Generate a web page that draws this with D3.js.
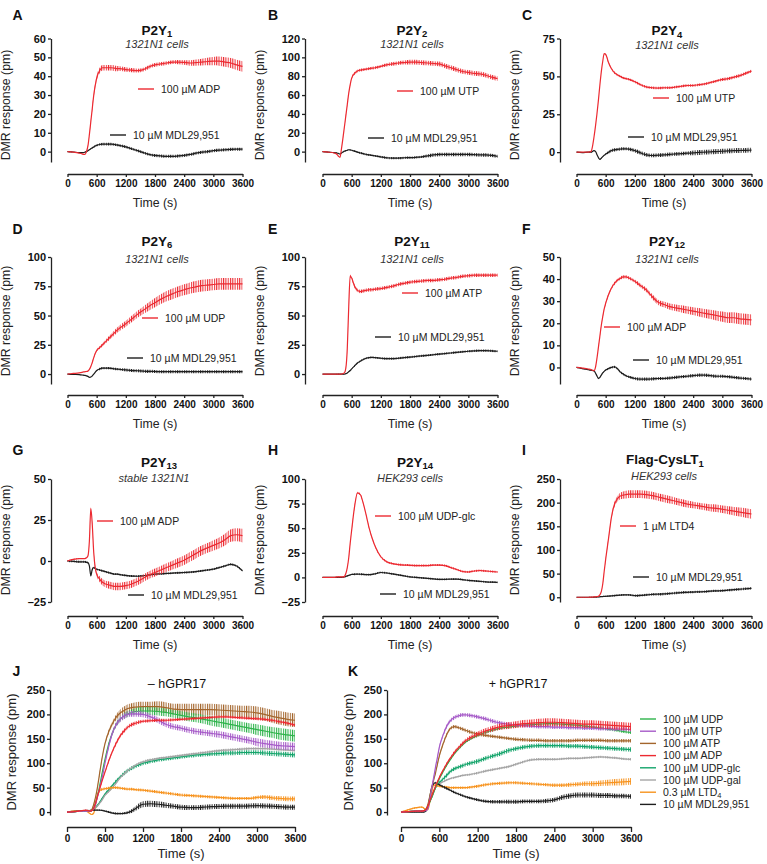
<!DOCTYPE html>
<html><head><meta charset="utf-8">
<script src="https://cdn.jsdelivr.net/npm/d3@7"></script>
<style>body{margin:0;background:#fff}svg{display:block}</style>
</head><body><svg id="c" width="767" height="864"></svg>
<script>
// ---------- time grid (s) ----------
const T = [0,120,240, 300,330,360,390,420,450,480,510,540,570,600, 660,720,780,840,900,960,1020,1080, 1200,1320,1440,1560,1680,1800,1920,2040,2160,2280, 2400,2520,2640,2760,2880,3000,3120,3240,3360,3480, 3600];
const xTicks = [0,600,1200,1800,2400,3000,3600];

// ---------- A: P2Y1 ----------
const A_ADP   = [0,-0.3,-0.8, -1.2,-1.5,-1.5,0,3,9,16,23,30,35,39, 43,44.5,44.5,44.5,44.5,44.3,44,44, 43.5,43.2,43,43.5,45,46,46.5,47,47.5,47.5, 47.3,47,47.2,47.5,47.8,48,48,47.5,47,46, 45.2];
const A_ADP_e = [0,0,0, 0,0,0,0.3,0.5,0.8,1,1,1.2,1.3,1.5, 1.5,1.5,1.5,1.5,1.5,1.5,1.4,1.3, 1.2,1.1,1,1,1,1,1,1,1,1.1, 1.2,1.4,1.6,1.8,2,2.2,2.4,2.5,2.6,2.7, 2.8];
const A_MDL   = [0,-0.2,-0.5, -0.5,-0.5,-0.3,0,0.5,1,1.5,2,2.5,3,3.3, 3.8,4,4,4,4,3.8,3.5,3.2, 2.5,1.5,0.5,-0.5,-1.5,-2,-2.3,-2.5,-2.5,-2.3, -2,-1.5,-0.8,-0.3,0,0.5,0.8,1,1.2,1.3, 1.3];
const A_MDL_e = [0.2,0.2,0.2, 0.2,0.2,0.2,0.2,0.2,0.3,0.3,0.4,0.5,0.5,0.6, 0.6,0.7,0.7,0.7,0.7,0.7,0.7,0.7, 0.7,0.7,0.7,0.7,0.7,0.8,0.8,0.8,0.8,0.8, 0.8,0.8,0.8,0.8,0.8,0.8,0.8,0.8,0.8,0.8, 0.8];
// ---------- B: P2Y2 ----------
const B_UTP   = [0,-0.5,-1.5, -3,-5,-6,3,14,26,38,50,62,71,78, 83,85.5,86.5,87,87.5,88,88.5,89, 90.5,92,93,94,94.5,95,95,94.5,94,93.5, 93,91,89,87,85,84,83,82.5,81,79, 77.5];
const B_UTP_e = [0,0,0, 0,0,0,0,0.5,0.5,1,1,1,1.2,1.5, 1.5,1.5,1.5,1.5,1.5,1.5,1.5,1.5, 1.5,1.8,2,2,2.2,2.5,2.5,2.5,2.5,2.5, 2.5,2.5,2.5,2.5,2.5,2.5,2.5,2.5,2.5,2.5, 2.5];
const B_MDL   = [0,-0.5,-1, -1.5,-2,-2.5,-1.5,-0.5,0.5,1,1.5,2,1.8,1.5, 0.5,-0.5,-1.5,-2.2,-3,-3.5,-4,-4.5, -5.5,-6.5,-6.8,-6.8,-6.5,-6.3,-6,-5.5,-4.5,-3.5, -3,-3,-3,-3,-3,-3,-3.2,-3.5,-3.5,-4, -5];
const B_MDL_e = [0.3,0.3,0.3, 0.5,0.5,0.5,0.5,0.5,0.5,0.5,0.5,0.5,0.5,0.5, 1,1,1,1,1,1,1,1, 1.2,1.2,1.2,1.2,1.2,1.2,1.2,1.2,1.8,1.8, 1.8,1.8,1.8,1.8,1.8,1.8,1.8,1.8,1.8,1.8, 1.8];
// ---------- C: P2Y4 ----------
const C_UTP   = [0,0,0, 0.5,4,10,17,25,34,44,53,60,65,64.5, 59,55,52.5,51,50,49,48.5,48, 46.5,44.5,43,42.5,42.3,42.5,42.5,43,43.5,44, 44,44.5,45,46,47,48,48.5,49.5,50.5,52, 53.5];
const C_UTP_e = [0,0,0, 0,0,0,0,0,0,0,0,0,0.3,0.5, 0.7,0.7,0.7,0.7,0.7,0.7,0.7,0.7, 0.8,0.8,0.8,0.8,0.8,0.8,0.8,0.8,0.8,0.8, 0.8,0.8,0.8,0.8,0.8,1,1,1,1,1, 1];
const C_MDL   = [0,-0.3,0, 0,0.5,1,0.5,-1.5,-3.5,-4.8,-4,-3,-2,-1.3, 0,1,1.5,1.8,2,2.2,2.2,2, 1,-0.5,-1.8,-2.2,-2,-1.8,-1.5,-1.2,-1,-0.7, -0.5,-0.2,0,0.2,0.4,0.6,0.8,1,1.1,1.2, 1.3];
const C_MDL_e = [0.3,0.3,0.3, 0.3,0.3,0.3,0.3,0.3,0.3,0.3,0.3,0.3,0.3,0.5, 1,1,1,1,1,1,1,1, 1.2,1.2,1.2,1.2,1.2,1.2,1.2,1.2,1.2,1.2, 1.6,1.6,1.6,1.6,1.6,1.6,1.6,1.6,1.6,1.6, 1.6];
// ---------- D: P2Y6 ----------
const D_UDP   = [0,0.5,1, 1.5,1.8,2,2.2,2.5,4,6.5,10,14,17.5,20, 22.5,25,27.5,30,32.5,35,37.5,39.5, 43,47,51,54.5,58,61,64,66.5,68.5,70.5, 72,73.5,74.5,75.5,76,76.5,77,77,77,77, 77];
const D_UDP_e = [0,0,0, 0,0,0,0,0,0.3,0.5,0.7,0.8,0.9,1, 1.2,1.4,1.6,1.8,2,2.2,2.3,2.4, 2.5,2.8,3,3.3,3.6,4,4.2,4.4,4.5,4.6, 4.7,4.8,4.9,5,5,5,5,5,5,5, 5];
const D_MDL   = [0,-0.3,-0.5, -0.8,-1,-1.2,-1.5,-2,-2.8,-2.5,-1.5,0,1.5,3, 4.3,5,5,5,4.8,4.5,4.2,4, 3.5,3,2.8,2.5,2.3,2.2,2,2,2,2, 2,2,2,2,2,2,2,2,2,2, 2];
const D_MDL_e = [0.3,0.3,0.3, 0.3,0.3,0.3,0.3,0.3,0.3,0.3,0.3,0.3,0.3,0.3, 1,1,1,1,1,1,1,1, 1.3,1.3,1.3,1.3,1.3,1.3,1.3,1.3,1.3,1.3, 1.3,1.3,1.3,1.3,1.3,1.3,1.3,1.3,1.3,1.3, 1.3];
// ---------- E: P2Y11 ----------
const E_ATP   = [0,0,0, 0,0,0,0,0.5,1,5,22,58,84,82, 75,71.5,70.5,71,71.5,72,72,72.5, 73,74,75,76.5,77.5,78.5,79,79.5,80,80, 80.5,81,82,82.5,83.5,84,84.5,84.5,84.5,84.5, 84.5];
const E_ATP_e = [0,0,0, 0,0,0,0,0,0,0.5,1,1,1,1.2, 1.5,1.5,1.5,1.5,1.5,1.5,1.5,1.5, 1.5,1.5,1.5,1.5,1.5,1.5,1.5,1.5,1.5,1.5, 1.5,1.5,1.5,1.5,1.5,1.5,1.5,1.5,1.5,1.5, 1.5];
const E_MDL   = [0,0,0, 0,0,0,0,0,0,0.3,1,2,3,4.5, 7,9.5,11,12.5,13.5,14,14.2,14, 13.5,13.2,13.2,13.5,14,14.5,15,15.5,16,16.5, 17,17.5,18,18.5,19,19.5,19.8,20,20,19.8, 19.5];
const E_MDL_e = [0,0,0, 0.3,0.3,0.3,0.3,0.3,0.3,0.3,0.3,0.3,0.3,0.3, 0.8,0.8,0.8,0.8,0.8,0.8,0.8,0.8, 0.9,0.9,0.9,0.9,0.9,0.9,0.9,0.9,0.9,0.9, 0.9,0.9,0.9,0.9,0.9,0.9,0.9,0.9,0.9,0.9, 0.9];
// ---------- F: P2Y12 ----------
const F_ADP   = [0,-0.3,-0.7, -1,-1.3,-1.5,0,4,9,14,19,23,26.5,29, 33,36,38,39.5,40.3,41,41,40.5, 39,37,35,32,29.5,28.5,27.5,27,26.5,26, 25.5,25,24.5,24,23.5,23,22.5,22.5,22,21.8, 21.5];
const F_ADP_e = [0,0,0, 0,0,0,0,0.2,0.3,0.4,0.5,0.5,0.6,0.6, 0.7,0.7,0.7,0.7,0.7,0.7,0.7,0.7, 0.8,0.9,1,1.1,1.2,1.3,1.4,1.5,1.6,1.7, 1.8,1.9,2,2.1,2.2,2.3,2.4,2.5,2.5,2.5, 2.5];
const F_MDL   = [0,-0.5,-1, -1.3,-1.4,-1.5,-2.5,-3.8,-5,-4.5,-3.5,-2.5,-1.8,-1.2, -0.5,0,0.3,-0.5,-2,-3,-3.8,-4.3, -5,-5.3,-5.3,-5.2,-5,-5,-4.8,-4.5,-4.2,-4, -3.7,-3.5,-3.5,-3.7,-4,-4,-4.2,-4.5,-4.8,-5, -5.3];
const F_MDL_e = [0.2,0.2,0.2, 0.3,0.3,0.3,0.3,0.3,0.3,0.3,0.3,0.3,0.3,0.3, 0.5,0.5,0.5,0.5,0.5,0.5,0.5,0.5, 0.7,0.7,0.7,0.7,0.7,0.7,0.7,0.7,0.7,0.7, 0.7,0.7,0.7,0.7,0.7,0.7,0.7,0.7,0.7,0.7, 0.7];
// ---------- G: P2Y13 ----------
const G_ADP   = [0,1,1.5, 1.5,1.5,1.5,2,3,12,32,22,5,-4,-8, -11,-13,-14,-14.5,-15,-15.5,-15.5,-15.5, -15,-14,-12.5,-10.5,-8.5,-7,-5.5,-4,-2.5,-1, 0.5,2.5,4.5,6.5,8,9.5,11,13,15.5,16, 15.5];
const G_ADP_e = [0.3,0.3,0.3, 0.3,0.3,0.3,0.3,0.3,0.5,0.8,1,1,1.2,1.5, 1.8,2,2,2.2,2.2,2.3,2.3,2.3, 2.3,2.3,2.3,2.3,2.3,2.4,2.5,2.6,2.7,2.8, 2.9,3,3,3,3,3.2,3.4,3.6,3.8,4, 4.2];
const G_MDL   = [0,-0.2,-0.5, -0.5,-0.5,-0.5,-0.8,-1,-3,-9,-5,-4,-4.5,-5, -5.5,-6,-6.5,-7,-7.5,-8,-8,-8.3, -8.8,-9.2,-9.3,-9,-8.5,-8,-7.8,-7.6,-7.4,-7.2, -7,-6.8,-6.5,-6,-5.5,-5,-4,-3,-2,-3, -6];
const G_MDL_e = [0.6,0.6,0.6, 0.6,0.6,0.6,0.6,0.6,0.6,0.6,0.6,0.6,0.6,0.6, 0.6,0.6,0.6,0.6,0.6,0.6,0.6,0.6, 0.6,0.6,0.6,0.6,0.6,0.6,0.6,0.6,0.6,0.6, 0.6,0.6,0.6,0.6,0.6,0.6,0.6,0.6,0.6,0.6, 0.6];
// ---------- H: P2Y14 ----------
const H_GLC   = [0,0,0, 0.5,0.5,0.5,0.5,0.5,1,4,10,20,35,48, 72,86,84,75,63,50,40,32, 21,16,14,13,12.5,12.3,12,12,12,12.5, 12.5,12,10,8,6,5.5,6.5,7,6.5,6, 5.5];
const H_GLC_e = [0.3,0.3,0.3, 0.3,0.3,0.3,0.3,0.3,0.3,0.3,0.5,0.8,1,1, 1,1,1,1,1,1,1,1, 1,1,1,1,1,1,1,1,1,1, 1,1,1,1,1,1,1,1,1,1, 1];
const H_MDL   = [0,0,0, 0,0,0,0,0.3,0.5,1,1.5,2,2.5,3, 3.2,3.3,3.2,3,2.8,2.8,3,3.5, 5,4.5,3.5,2.5,1.5,0.5,0,-0.5,-1,-1.5, -2,-2,-1.8,-1.8,-2.2,-3,-3.5,-4,-4.5,-4.8, -5];
const H_MDL_e = [0.3,0.3,0.3, 0.5,0.5,0.5,0.5,0.5,0.5,0.5,0.5,0.5,0.5,0.5, 0.9,0.9,0.9,0.9,0.9,0.9,0.9,0.9, 0.9,0.9,0.9,0.9,0.9,0.9,0.9,0.9,0.9,0.9, 0.9,0.9,0.9,0.9,0.9,0.9,0.9,0.9,0.9,0.9, 0.9];
// ---------- I: Flag-CysLT1 ----------
const I_LTD   = [0,0,0, 0.5,0.5,1,1,1.5,2,5,12,28,55,80, 125,170,196,208,214,216,217,218, 218,218,217,215,212,209,206,203,200,197, 195,193,191,189,188,186,184,182,180,178, 176];
const I_LTD_e = [0,0,0, 0,0,0,0,0,0,0,0.5,1,1.5,2, 3,4,5,6,7,7.5,8,8, 8,8,8,8,8,8,8,7.5,7.5,7.5, 7,7,7,7.5,8,8,8.5,9,9.5,10, 10];
const I_MDL   = [0,0,0, 0,0,0,0.5,0.5,1,1,1.5,1.5,2,2, 2.5,3,3.5,4,4.5,5,5,5, 3.5,4,5,6,6.5,7,8,9,10,10.5, 11,11.5,12,13,13.5,14,15,16,17,18, 19];
const I_MDL_e = [0.5,0.5,0.5, 1,1,1,1,1,1,1,1,1,1,1, 2,2,2,2,2,2,2,2, 2.5,2.5,2.5,2.5,2.5,2.5,2.5,2.5,2.5,2.5, 2.5,2.5,2.5,2.5,2.5,2.5,2.5,2.5,2.5,2.5, 2.5];

// ---------- J: - hGPR17 ----------
const J_GLC   = [0,1,2, 2,2,2,3,5,9,14,19,25,31,37, 46,55,64,72,79,85,90,94, 100,104,107,109,111,113,115,117,118,119, 120,121,121,122,122,122,121,120,119,118, 117];
const J_GLC_e = [0.5,0.5,0.5, 0.5,0.5,0.5,0.5,1,1,1.5,1.5,2,2,2.5, 3,3,3.5,3.5,4,4,4,4, 4,4,4,4,4,4,4,4,4,4, 4.5,4.5,4.5,4.5,4.5,4.5,5,5,5,5, 5];
const J_GAL   = [0,1,2, 2,2,2,3,5,8,12,17,22,28,34, 42,50,60,70,78,85,91,96, 103,107,110,112,114,116,118,120,122,124, 126,127,128,129,130,130,130,129,128,127, 126];
const J_GAL_e = [0.5,0.5,0.5, 1,1,1,1,1,1,1,1,1,1,1, 2,2,2,2,2,2,2,2, 2.5,2.5,2.5,2.5,2.5,2.5,2.5,2.5,2.5,2.5, 2.5,2.5,2.5,2.5,2.5,2.5,2.5,2.5,2.5,2.5, 2.5];
const J_LTD   = [0,2,3, 2,0,-3,-5,-3,15,35,43,46,47,48, 49,50,50,49,48,47,47,46, 45,43,41,39,37,35,34,33,32,31, 30,29,28,28,28,30,31,29,28,27, 27];
const J_LTD_e = [1,1,1, 1,1,1,1,1,2,3,3,3,3,3, 3,3,3,3,3,3,3,3, 3,3,3,3,3,3,3,3,3,3, 3,3,3,3,3,3.5,4,4.5,5,5, 5];
const J_MDL   = [0,1,2, 3,3,3,4,4,4,4,4,3.5,3,2, 0,-2,-3,-3,-2.5,-1,2,7, 16,17,16,14,12,10,9,9,10,11, 11.5,12,12,12,12.5,13,12.5,12,11,10, 10];
const J_MDL_e = [1,1,1, 1.5,1.5,1.5,1.5,1.5,1.5,1.5,1.5,1.5,1.5,1.5, 2,2,2,2,2,3,4,5, 6,6,6,5.5,5,5,5,5,5,5, 5,5,5,5,5,5,5,5,5,5, 5];
const J_ATP   = [0,2,3, 3,3,3,5,15,30,50,75,100,122,140, 165,182,195,203,208,212,214,215, 216,216,216,214,211,210,210,210,210,210, 209,208,207,206,205,203,200,196,193,190, 188];
const J_ATP_e = [1,1,1, 1,1,1,1,2,2,3,3,3,3,3, 4,5,6,7,8,9,9,10, 10,10,11,11,11,12,12,12,12,12, 12,12,12,12,13,13,13,13,14,14, 14];
const J_UDP   = [0,1,2, 2,2,2,3,8,18,32,50,70,90,108, 140,163,180,190,197,201,204,206, 207,207,206,204,201,198,195,193,190,187, 184,181,178,175,172,169,166,163,160,158, 156];
const J_UDP_e = [1,1,1, 1,1,1,1,1.5,2,2,2,2,2,2, 3,4,5,5,6,6,6,7, 8,8,8,8,8,9,9,9,9,10, 10,10,10,10,10,11,11,11,12,12, 12];
const J_UTP   = [0,1,2, 2,2,2,3,6,15,30,45,62,80,100, 135,163,180,190,196,200,201,201, 200,195,188,180,175,172,168,165,163,161, 159,156,153,150,147,143,140,138,136,135, 134];
const J_UTP_e = [1,1,1, 1,1,1,1,1.5,2,2,2.5,3,3,3, 4,5,5,6,6,6,6,6, 6,6,6,6,6,6,6,6,6,6, 7,7,7,7,7,8,8,8,8,8, 8];
const J_ADP   = [0,1,3, 4,3,2,3,8,18,32,45,58,70,82, 105,125,142,156,166,174,179,182, 186,187,188,188,189,190,191,192,193,194, 195,195,194,193,192,191,190,188,185,182, 178];
const J_ADP_e = [1,1,1, 1,1,1,1,1.5,2,2,2,2,2,2.5, 3,3.5,4,4,4,4,4,4, 3,3,3,3,3,3,3,3,3,3, 3,3,3,3,3,3,3,3,3,3, 3];

// ---------- K: + hGPR17 ----------
const K_GLC   = [0,1,2, 2,2,3,5,12,22,30,40,50,56,60, 68,76,84,89,92,95,98,100, 104,110,115,120,126,130,133,135,136,136, 136,136,135,135,134,133,132,131,130,129, 128];
const K_GLC_e = [0.5,0.5,0.5, 1,1,1,1,1.5,2,3,3,3,3.5,3.5, 4,4,4,4,4,4,4,4, 4.5,4.5,4.5,4.5,4.5,4.5,4.5,4.5,4.5,4.5, 4.5,4.5,4.5,4.5,4.5,4.5,4.5,4.5,4.5,4.5, 4.5];
const K_GAL   = [0,1,2, 2,2,3,5,12,22,32,42,50,55,58, 62,66,69,71,73,75,76,77, 80,84,87,90,93,98,103,107,108,108, 108,109,110,110,111,112,113,112,111,109, 108];
const K_GAL_e = [0.5,0.5,0.5, 1,1,1,1,1,1,1,1,1,1,1, 2,2,2,2,2,2,2,2, 2.5,2.5,2.5,2.5,2.5,2.5,2.5,2.5,2.5,2.5, 2.5,2.5,2.5,2.5,2.5,2.5,2.5,2.5,2.5,2.5, 2.5];
const K_LTD   = [0,5,9, 10,10,8,5,5,20,40,55,55,54,53, 52,51,50,50,50,50,50,51, 53,56,58,59,60,60,59,58,57,56, 55,55,56,57,58,58,59,60,61,62, 63];
const K_LTD_e = [1.5,1.5,1.5, 1.5,1.5,1.5,1.5,1.5,2,2,2,2,2,2, 2.5,2.5,2.5,2.5,2.5,2.5,2.5,2.5, 3,3,3,3,3,3,3,3,3,3, 3.5,3.5,4,4,4.5,5,5.5,6,6.5,7, 7];
const K_MDL   = [0,0,0, 0,0,0,2,10,30,50,58,60,58,56, 52,48,44,40,37,34,31,29, 25,22,21,21,21,21,22,22,22,23, 25,30,33,35,35,35,34,34,33,33, 32];
const K_MDL_e = [0.5,0.5,0.5, 0.5,0.5,0.5,1,1.5,2,2,2,2,2,2, 2.5,2.5,2.5,2.5,2.5,2.5,2.5,2.5, 3,3,3.5,3.5,4,4,4,4,4,4.5, 4.5,5,5,5,5,5,5,5,4.5,4.5, 4.5];
const K_ATP   = [0,1,2, 2,2,3,6,15,32,50,65,80,98,115, 140,160,172,175,173,170,167,164, 160,157,155,153,151,149,148,147,147,146, 146,146,146,147,147,147,147,146,146,146, 146];
const K_ATP_e = [0.5,0.5,0.5, 1,1,1,1,1.5,2,2,2.5,2.5,3,3, 3.5,3.5,3.5,3.5,3.5,3.5,3.5,3.5, 3.5,3.5,3.5,3.5,3.5,3.5,3.5,3.5,3.5,3.5, 3.5,3.5,3.5,3.5,3.5,3.5,3.5,3.5,3.5,3.5, 3.5];
const K_UDP   = [0,1,2, 2,2,3,5,11,20,30,40,50,59,68, 83,97,109,120,129,137,144,149, 157,163,168,172,174,176,178,179,180,181, 181,180,179,178,176,174,172,170,168,165, 163];
const K_UDP_e = [0.5,0.5,0.5, 1,1,1,1,1,1,1,1,1,1,1, 2,2,2,2,2,2,2,2, 3,3,3,3,3,3,3,3,3,3, 3,3,3,3,3,3,3,3,3,3, 3];
const K_UTP   = [0,1,2, 2,2,3,3,7,25,48,70,92,112,133, 158,177,188,194,197,199,199,198, 195,191,186,182,180,178,177,176,175,175, 174,174,173,173,172,172,171,171,170,170, 169];
const K_UTP_e = [0.5,0.5,0.5, 1,1,1,1,1.5,2,2.5,3,3,3.5,3.5, 4,4,4,4,4,4,4,4, 4,4,4,4,4,4,4,4,4,4, 4,4,4,4,4,4,4,4,4,4, 4];
const K_ADP   = [0,1,2, 2,2,3,5,12,22,33,43,53,62,71, 86,100,112,123,132,140,147,152, 160,166,171,175,177,179,181,182,183,184, 184,183,182,181,180,180,179,178,177,176, 175];
const K_ADP_e = [0.5,0.5,0.5, 1,1,1,1,1,1.5,1.5,2,2,2,2, 2.5,3,3,3.5,3.5,4,4,4.5, 5,5.5,6,6.5,7,7,7.5,7.5,8,8, 8,8,8,8,8,8,8,8,8,8, 8];

// ---------- styles ----------
const FONT = '"Liberation Sans", Arial, Helvetica, sans-serif';
const RED = '#ec2a31', BLK = '#1e1e1e';
const COL_UDP = '#2db34a', COL_UTP = '#a65bc8', COL_ATP = '#a3652c', COL_ADP = '#ec2a31',
      COL_GLC = '#13a46a', COL_GAL = '#a5a5a5', COL_LTD = '#f7931e', COL_MDL = '#1e1e1e';

const svg = d3.select('#c').attr('font-family', FONT);
svg.append('rect').attr('width',767).attr('height',864).attr('fill','#fff');
const defs = svg.append('defs');
function hatch(color){
  const id = 'h' + color.replace('#','');
  if (defs.select('#'+id).empty()){
    const p = defs.append('pattern').attr('id',id).attr('patternUnits','userSpaceOnUse')
      .attr('width',2.3).attr('height',10);
    p.append('rect').attr('width',1.05).attr('height',10).attr('fill',color);
  }
  return id;
}
const fmtY = d => d < 0 ? '\u2013' + Math.abs(d) : String(d);

function drawPanel(p){
  const g = svg.append('g');
  const x = d3.scaleLinear().domain([0,3600]).range([p.x0, p.x1]);
  const y = d3.scaleLinear().domain(p.yDom).range([p.yBot, p.yTop]);
  p.series.forEach(s => {
    const n = Math.min(T.length, s.v.length, s.e.length);
    const idx = d3.range(n);
    g.append('path').datum(idx)
      .attr('d', d3.area().x(i=>x(T[i])).y0(i=>y(s.v[i]-s.e[i])).y1(i=>y(s.v[i]+s.e[i])).curve(d3.curveMonotoneX))
      .attr('fill', `url(#${hatch(s.c)})`);
    g.append('path').datum(idx)
      .attr('d', d3.line().x(i=>x(T[i])).y(i=>y(s.v[i])).curve(d3.curveMonotoneX))
      .attr('fill','none').attr('stroke', s.c).attr('stroke-width', 1.2);
  });
  const ya = g.append('g').attr('transform',`translate(${p.yAxisX},0)`)
    .call(d3.axisLeft(y).tickValues(p.yTicks).tickSize(3).tickSizeOuter(0).tickPadding(2).tickFormat(fmtY));
  const xa = g.append('g').attr('transform',`translate(0,${p.xAxisY})`)
    .call(d3.axisBottom(x).tickValues(xTicks).tickSize(p.xTick).tickSizeOuter(0).tickPadding(3).tickFormat(d3.format('d')));
  [ya, xa].forEach(a => {
    a.attr('font-family', FONT);
    a.select('.domain').attr('stroke','#222').attr('stroke-width',1.3);
    a.selectAll('.tick line').attr('stroke','#222').attr('stroke-width',1.3);
    a.selectAll('.tick text').attr('font-weight','bold').attr('fill','#111');
  });
  ya.selectAll('.tick text').attr('font-size', 11);
  xa.selectAll('.tick text').attr('font-size', 10);
  g.append('text').attr('x',(p.x0+p.x1)/2).attr('y',p.xAxisY + p.timeDy)
    .attr('text-anchor','middle').attr('font-size',p.labFont).attr('fill','#222').text('Time (s)');
  g.append('text').attr('transform',`translate(${p.yAxisX - p.ylDx},${p.ylY}) rotate(-90)`)
    .attr('text-anchor','middle').attr('font-size',p.labFont).attr('fill','#222').text('DMR response (pm)');
  g.append('text').attr('x',p.letterX).attr('y',p.letterY).attr('font-size',14).attr('font-weight','bold')
    .attr('fill','#111').text(p.letter);
  const t = g.append('text').attr('x',p.tx).attr('y',p.ty).attr('text-anchor','middle')
    .attr('font-size',p.titleBold ? 13.5 : 12.5).attr('font-weight',p.titleBold ? 'bold' : 'normal').attr('fill','#111');
  t.append('tspan').text(p.title[0]);
  if (p.title[1]) t.append('tspan').attr('dy',2.5).attr('font-size',9.5).text(p.title[1]);
  if (p.sub) g.append('text').attr('x',p.sx).attr('y',p.sy).attr('text-anchor','middle')
    .attr('font-size',11).attr('font-style','italic').attr('fill','#333').text(p.sub);
  (p.legend || []).forEach(l => {
    g.append('line').attr('x1',l.x).attr('x2',l.x+16).attr('y1',l.y).attr('y2',l.y)
      .attr('stroke',l.c).attr('stroke-width',1.4);
    const tx = g.append('text').attr('x',l.x+23).attr('y',l.y+3.8).attr('font-size',10.5).attr('fill','#222');
    tx.append('tspan').text(l.label[0]);
    if (l.label[1]) tx.append('tspan').attr('dy',1.8).attr('font-size',7.5).text(l.label[1]);
  });
}

const rowsG = [
  {yTop:38.5, yBot:162, xAxisY:174, ylY:105},
  {yTop:257,  yBot:384, xAxisY:395, ylY:321},
  {yTop:479,  yBot:602, xAxisY:616, ylY:540}
];
const colsG = [{yAxisX:51, x0:67.5}, {yAxisX:305, x0:322.5}, {yAxisX:560, x0:576.5}];
const colL = [12.5, 268, 522];
const letterY = [20, 234, 455];

const small = [
  {letter:'A', r:0, c:0, title:['P2Y','1'], sub:'1321N1 cells', tx:157, ty:34.5, sx:157, sy:48,
   yDom:[-5.5,60], yTicks:[0,10,20,30,40,50,60],
   series:[{v:A_MDL,e:A_MDL_e,c:BLK},{v:A_ADP,e:A_ADP_e,c:RED}],
   legend:[{label:['100 µM ADP'],c:RED,x:138,y:89},{label:['10 µM MDL29,951'],c:BLK,x:110,y:135}]},
  {letter:'B', r:0, c:1, title:['P2Y','2'], sub:'1321N1 cells', tx:412, ty:34.5, sx:412, sy:48,
   yDom:[-11,120], yTicks:[0,20,40,60,80,100,120],
   series:[{v:B_MDL,e:B_MDL_e,c:BLK},{v:B_UTP,e:B_UTP_e,c:RED}],
   legend:[{label:['100 µM UTP'],c:RED,x:397,y:91},{label:['10 µM MDL29,951'],c:BLK,x:368,y:138}]},
  {letter:'C', r:0, c:2, title:['P2Y','4'], sub:'1321N1 cells', tx:667, ty:35, sx:667, sy:48.5,
   yDom:[-6.5,75], yTicks:[0,25,50,75],
   series:[{v:C_MDL,e:C_MDL_e,c:BLK},{v:C_UTP,e:C_UTP_e,c:RED}],
   legend:[{label:['100 µM UTP'],c:RED,x:653,y:98},{label:['10 µM MDL29,951'],c:BLK,x:628,y:137}]},
  {letter:'D', r:1, c:0, title:['P2Y','6'], sub:'1321N1 cells', tx:157, ty:245.5, sx:157, sy:262.5,
   yDom:[-8.5,100], yTicks:[0,25,50,75,100],
   series:[{v:D_MDL,e:D_MDL_e,c:BLK},{v:D_UDP,e:D_UDP_e,c:RED}],
   legend:[{label:['100 µM UDP'],c:RED,x:142,y:318},{label:['10 µM MDL29,951'],c:BLK,x:127,y:358}]},
  {letter:'E', r:1, c:1, title:['P2Y','11'], sub:'1321N1 cells', tx:412, ty:245.5, sx:412, sy:262.5,
   yDom:[-8.5,100], yTicks:[0,25,50,75,100],
   series:[{v:E_MDL,e:E_MDL_e,c:BLK},{v:E_ATP,e:E_ATP_e,c:RED}],
   legend:[{label:['100 µM ATP'],c:RED,x:402,y:293},{label:['10 µM MDL29,951'],c:BLK,x:375,y:337}]},
  {letter:'F', r:1, c:2, title:['P2Y','12'], sub:'1321N1 cells', tx:667, ty:245.5, sx:667, sy:262.5,
   yDom:[-7.5,50], yTicks:[0,10,20,30,40,50],
   series:[{v:F_MDL,e:F_MDL_e,c:BLK},{v:F_ADP,e:F_ADP_e,c:RED}],
   legend:[{label:['100 µM ADP'],c:RED,x:604,y:327},{label:['10 µM MDL29,951'],c:BLK,x:633,y:360}]},
  {letter:'G', r:2, c:0, title:['P2Y','13'], sub:'stable 1321N1', tx:159, ty:466.5, sx:154, sy:482,
   yDom:[-25,50], yTicks:[-25,0,25,50],
   series:[{v:G_MDL,e:G_MDL_e,c:BLK},{v:G_ADP,e:G_ADP_e,c:RED}],
   legend:[{label:['100 µM ADP'],c:RED,x:97,y:521},{label:['10 µM MDL29,951'],c:BLK,x:128,y:595}]},
  {letter:'H', r:2, c:1, title:['P2Y','14'], sub:'HEK293 cells', tx:415, ty:466.5, sx:410, sy:482,
   yDom:[-25,100], yTicks:[-25,0,25,50,75,100],
   series:[{v:H_MDL,e:H_MDL_e,c:BLK},{v:H_GLC,e:H_GLC_e,c:RED}],
   legend:[{label:['100 µM UDP-glc'],c:RED,x:375,y:516},{label:['10 µM MDL29,951'],c:BLK,x:380,y:594}]},
  {letter:'I', r:2, c:2, title:['Flag-CysLT','1'], sub:'HEK293 cells', tx:665, ty:464, sx:664, sy:480,
   yDom:[-10,250], yTicks:[0,50,100,150,200,250],
   series:[{v:I_MDL,e:I_MDL_e,c:BLK},{v:I_LTD,e:I_LTD_e,c:RED}],
   legend:[{label:['1 µM LTD4'],c:RED,x:620,y:526},{label:['10 µM MDL29,951'],c:BLK,x:633,y:577}]}
];

small.forEach(s => {
  const R = rowsG[s.r], C = colsG[s.c];
  drawPanel(Object.assign({}, s, {
    x0:C.x0, x1:C.x0+175, yAxisX:C.yAxisX, yTop:R.yTop, yBot:R.yBot, xAxisY:R.xAxisY,
    ylY:R.ylY, ylDx:41, timeDy:33, labFont:12.3, xTick:3,
    letterX:colL[s.c], letterY:letterY[s.r], titleBold:true
  }));
});

const seriesJ = [
  {v:J_GLC,e:J_GLC_e,c:COL_GLC},{v:J_GAL,e:J_GAL_e,c:COL_GAL},{v:J_LTD,e:J_LTD_e,c:COL_LTD},{v:J_MDL,e:J_MDL_e,c:COL_MDL},
  {v:J_ATP,e:J_ATP_e,c:COL_ATP},{v:J_UDP,e:J_UDP_e,c:COL_UDP},{v:J_UTP,e:J_UTP_e,c:COL_UTP},{v:J_ADP,e:J_ADP_e,c:COL_ADP}
];
const seriesK = [
  {v:K_GLC,e:K_GLC_e,c:COL_GLC},{v:K_GAL,e:K_GAL_e,c:COL_GAL},{v:K_LTD,e:K_LTD_e,c:COL_LTD},{v:K_MDL,e:K_MDL_e,c:COL_MDL},
  {v:K_UDP,e:K_UDP_e,c:COL_UDP},{v:K_ATP,e:K_ATP_e,c:COL_ATP},{v:K_UTP,e:K_UTP_e,c:COL_UTP},{v:K_ADP,e:K_ADP_e,c:COL_ADP}
];
const legendLabels = [['100 µM UDP'],['100 µM UTP'],['100 µM ATP'],['100 µM ADP'],
  ['100 µM UDP-glc'],['100 µM UDP-gal'],['0.3 µM LTD','4'],['10 µM MDL29,951']];
const legendColors = [COL_UDP, COL_UTP, COL_ATP, COL_ADP, COL_GLC, COL_GAL, COL_LTD, COL_MDL];

const bottom = {yTop:690, yBot:815, xAxisY:827, yDom:[-6,250], yTicks:[0,50,100,150,200,250],
  ylY:752, ylDx:34, timeDy:31, labFont:13, xTick:5, letterY:676, titleBold:false, ty:688};
drawPanel(Object.assign({}, bottom, {letter:'J', letterX:12.5, x0:67, x1:295, yAxisX:50,
  title:['\u2013 hGPR17'], tx:177, series:seriesJ}));
drawPanel(Object.assign({}, bottom, {letter:'K', letterX:348, x0:401, x1:631, yAxisX:387,
  title:['+ hGPR17'], tx:518, series:seriesK,
  legend: legendLabels.map((lab,i)=>({label:lab, c:legendColors[i], x:640, y:719 + i*12.2}))}));
</script>
</body></html>
